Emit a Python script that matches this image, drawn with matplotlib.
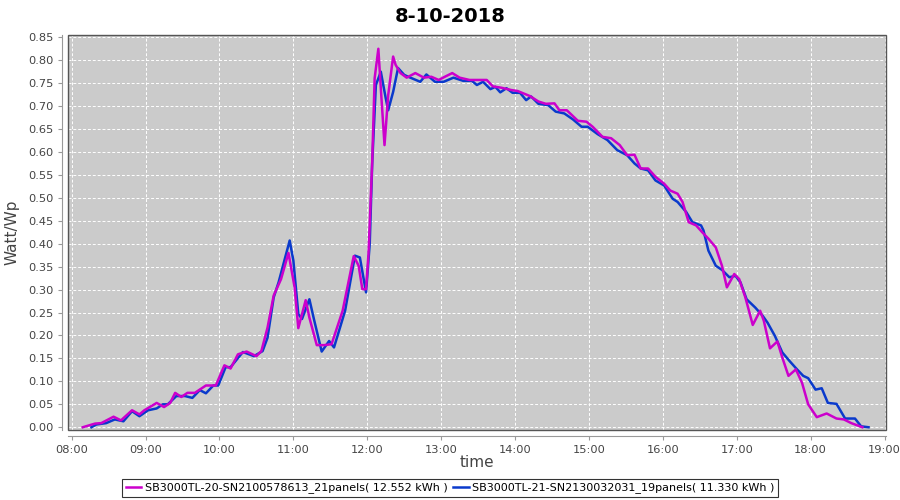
import matplotlib

matplotlib.use("Agg")
import matplotlib.pyplot as plt
import numpy as np
from matplotlib.patches import Rectangle
from matplotlib.ticker import FuncFormatter, MultipleLocator

title = "8-10-2018"
label_a = "SB3000TL-20-SN2100578613_21panels( 12.552 kWh )"
label_b = "SB3000TL-21-SN2130032031_19panels( 11.330 kWh )"

times_a = [
    "08:09", "08:19", "08:24", "08:34", "08:40", "08:49", "08:55", "08:59", "09:09", "09:15",
    "09:20", "09:24", "09:29", "09:34", "09:40", "09:49", "09:57", "10:04", "10:09", "10:15",
    "10:22", "10:30", "10:34", "10:39", "10:44", "10:50", "10:56", "11:01", "11:04", "11:10",
    "11:13", "11:19", "11:25", "11:31", "11:40", "11:49", "11:53", "11:56", "11:59", "12:01",
    "12:04", "12:06", "12:09", "12:11", "12:14", "12:17", "12:21", "12:23", "12:27", "12:32",
    "12:39", "12:46", "12:52", "12:58", "13:03", "13:09", "13:15", "13:23", "13:30", "13:37",
    "13:42", "13:49", "13:57", "14:02", "14:12", "14:19", "14:25", "14:32", "14:36", "14:42",
    "14:51", "14:58", "15:03", "15:11", "15:18", "15:25", "15:31", "15:37", "15:42", "15:48",
    "15:54", "16:01", "16:06", "16:12", "16:16", "16:21", "16:27", "16:32", "16:37", "16:43",
    "16:48", "16:52", "16:58", "17:02", "17:07", "17:13", "17:19", "17:22", "17:27", "17:33",
    "17:37", "17:42", "17:48", "17:53", "17:58", "18:05", "18:13", "18:21", "18:27", "18:33",
    "18:42",
]
values_a = [
    0.000, 0.008, 0.009, 0.023, 0.015, 0.037, 0.028, 0.037, 0.053, 0.044,
    0.053, 0.075, 0.066, 0.075, 0.075, 0.091, 0.091, 0.135, 0.128, 0.159,
    0.165, 0.155, 0.166, 0.217, 0.287, 0.323, 0.380, 0.305, 0.216, 0.277,
    0.239, 0.179, 0.179, 0.181, 0.254, 0.373, 0.352, 0.301, 0.301, 0.378,
    0.578, 0.761, 0.825, 0.739, 0.615, 0.724, 0.808, 0.790, 0.772, 0.762,
    0.772, 0.762, 0.764, 0.757, 0.764, 0.772, 0.762, 0.757, 0.757, 0.757,
    0.743, 0.740, 0.735, 0.733, 0.722, 0.710, 0.705, 0.706, 0.691, 0.691,
    0.668, 0.666, 0.655, 0.633, 0.630, 0.615, 0.593, 0.594, 0.564, 0.564,
    0.546, 0.531, 0.516, 0.509, 0.491, 0.447, 0.440, 0.425, 0.411, 0.392,
    0.352, 0.305, 0.334, 0.323, 0.283, 0.223, 0.254, 0.232, 0.172, 0.187,
    0.152, 0.112, 0.126, 0.097, 0.050, 0.022, 0.030, 0.019, 0.017, 0.009,
    0.000,
]

times_b = [
    "08:16", "08:20", "08:28", "08:35", "08:42", "08:49", "08:55", "09:02", "09:09", "09:14",
    "09:18", "09:25", "09:32", "09:38", "09:44", "09:49", "09:55", "09:59", "10:05", "10:09",
    "10:19", "10:24", "10:28", "10:35", "10:39", "10:44", "10:48", "10:57", "11:00", "11:04",
    "11:07", "11:13", "11:17", "11:23", "11:29", "11:33", "11:42", "11:50", "11:54", "11:59",
    "12:02", "12:04", "12:07", "12:11", "12:15", "12:17", "12:21", "12:25", "12:30", "12:35",
    "12:43", "12:48", "12:55", "13:02", "13:10", "13:18", "13:25", "13:29", "13:34", "13:40",
    "13:44", "13:48", "13:53", "13:58", "14:04", "14:09", "14:13", "14:19", "14:27", "14:33",
    "14:40", "14:47", "14:54", "14:59", "15:07", "15:15", "15:23", "15:31", "15:37", "15:42",
    "15:48", "15:54", "16:01", "16:08", "16:12", "16:19", "16:24", "16:31", "16:33", "16:37",
    "16:43", "16:48", "16:54", "16:59", "17:03", "17:08", "17:15", "17:21", "17:25", "17:31",
    "17:37", "17:43", "17:49", "17:54", "17:58", "18:04", "18:09", "18:14", "18:21", "18:28",
    "18:36", "18:41", "18:47",
]
values_b = [
    0.000, 0.006, 0.009, 0.017, 0.013, 0.035, 0.024, 0.037, 0.041, 0.050,
    0.050, 0.068, 0.068, 0.064, 0.081, 0.074, 0.091, 0.091, 0.131, 0.131,
    0.164, 0.159, 0.155, 0.166, 0.195, 0.283, 0.316, 0.407, 0.363, 0.247,
    0.236, 0.279, 0.232, 0.165, 0.188, 0.174, 0.254, 0.374, 0.370, 0.294,
    0.400, 0.575, 0.746, 0.775, 0.717, 0.691, 0.731, 0.783, 0.768, 0.762,
    0.753, 0.769, 0.753, 0.753, 0.762, 0.755, 0.755, 0.746, 0.753, 0.737,
    0.742, 0.730, 0.739, 0.729, 0.729, 0.713, 0.721, 0.705, 0.702, 0.688,
    0.684, 0.671, 0.655, 0.655, 0.639, 0.626, 0.604, 0.593, 0.575, 0.564,
    0.560, 0.538, 0.527, 0.498, 0.491, 0.469, 0.447, 0.440, 0.429, 0.385,
    0.352, 0.343, 0.327, 0.330, 0.316, 0.279, 0.261, 0.243, 0.228, 0.199,
    0.163, 0.144, 0.126, 0.112, 0.107, 0.082, 0.085, 0.053, 0.051, 0.019,
    0.019, 0.002, 0.000,
]

color_a = "#CC00CC"
color_b = "#0A3ACC"


def to_hours(labels):
    return np.array([int(s[:2]) + int(s[3:]) / 60 for s in labels])


def hour_fmt(x, pos):
    h = int(np.floor(x + 1e-9))
    m = int(round((x - h) * 60))
    return f"{h:02d}:{m:02d}"


fig = plt.figure(figsize=(9, 5), dpi=100)
ax = fig.add_axes([68 / 900, 1 - 430 / 500, 818 / 900, 395 / 500])
ax.set_facecolor("#CBCBCB")

ax.plot(to_hours(times_a), values_a, color=color_a, lw=1.8, label=label_a, zorder=3)
ax.plot(to_hours(times_b), values_b, color=color_b, lw=1.8, label=label_b, zorder=2)

ax.set_xlim(7.95, 19.02)
ax.set_ylim(-0.006, 0.855)
ax.xaxis.set_major_locator(MultipleLocator(1))
ax.xaxis.set_major_formatter(FuncFormatter(hour_fmt))
ax.yaxis.set_major_locator(MultipleLocator(0.05))
ax.yaxis.set_major_formatter(FuncFormatter(lambda v, p: f"{v:.2f}"))

ax.grid(True, color="white", ls=(0, (3, 2)), lw=0.7)
ax.set_axisbelow(True)

for side in ["top", "right"]:
    ax.spines[side].set_visible(False)
for side in ["left", "bottom"]:
    ax.spines[side].set_position(("outward", 4))
    ax.spines[side].set_color("#999999")
ax.add_patch(Rectangle((0, 0), 1, 1, transform=ax.transAxes, fill=False,
                       edgecolor="#555555", lw=1.0, zorder=5, clip_on=False))
ax.tick_params(colors="#999999", labelcolor="#444444", labelsize=8.2, length=3)

ax.set_xlabel("time", fontsize=11, color="#444444", labelpad=0)
ax.set_ylabel("Watt/Wp", fontsize=11, color="#444444", labelpad=6)
fig.suptitle(title, fontsize=14, fontweight="bold", y=0.985)

leg = fig.legend(loc="center", bbox_to_anchor=(0.5, 1 - 488 / 500), ncol=2,
                 fontsize=8, frameon=True, fancybox=False, handlelength=1.4,
                 handletextpad=0.3, columnspacing=0.5, borderpad=0.3)
leg.get_frame().set_edgecolor("black")
leg.get_frame().set_linewidth(0.8)

fig.savefig("out.png", dpi=100)
